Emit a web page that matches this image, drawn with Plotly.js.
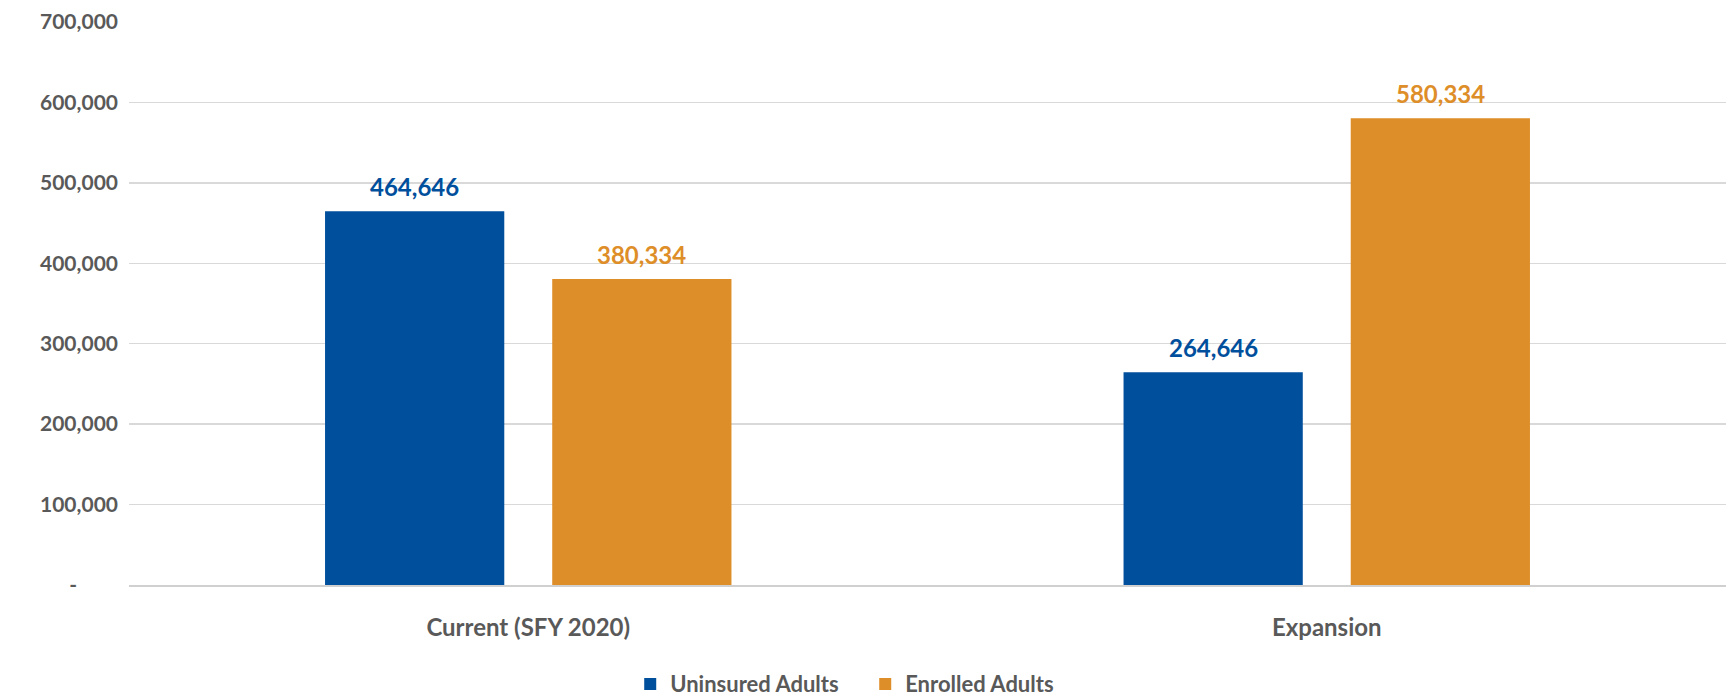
<!DOCTYPE html>
<html>
<head>
<meta charset="utf-8">
<script src="https://cdn.plot.ly/plotly-3.0.1.min.js"></script>
<style>html,body{margin:0;padding:0;background:#fff;}#chart{width:1728px;height:699px;}</style>
</head>
<body>
<div id="chart"></div>
<script>
const categories = ["Current (SFY 2020)", "Expansion"];
const seriesNames = ["Uninsured Adults", "Enrolled Adults"];
const uninsured = [464646, 264646];
const enrolled = [380334, 580334];
const tickValues = [0, 100000, 200000, 300000, 400000, 500000, 600000, 700000];
const tickLabels = ["-\u00A0\u00A0\u00A0\u00A0\u00A0\u00A0\u00A0\u00A0", "100,000", "200,000", "300,000", "400,000", "500,000", "600,000", "700,000"];
const colors = ["#004F9C", "#DE8E28"];

const FONT = "Lato, 'Open Sans', sans-serif";
const grey = "#595959";
const fmt = v => v.toLocaleString("en-US");

const seriesValues = [uninsured, enrolled];
const traces = seriesValues.map((vals, i) => ({
  type: "bar",
  name: seriesNames[i],
  x: categories,
  y: vals,
  marker: {color: colors[i]},
  hoverinfo: "none"
}));

const barOffsetPx = 113.5;
const annotations = [];
seriesValues.forEach((vals, i) => {
  vals.forEach((v, j) => {
    annotations.push({
      x: categories[j], y: v, xref: "x", yref: "y",
      text: "<b>" + fmt(v) + "</b>",
      showarrow: false,
      xshift: (i === 0 ? -1 : 1) * barOffsetPx,
      yshift: 25,
      yanchor: "middle",
      font: {family: FONT, size: 24, color: colors[i]}
    });
  });
});

const layout = {
  width: 1728, height: 699,
  margin: {l: 129, r: 2, t: 22, b: 114, autoexpand: false},
  paper_bgcolor: "#fff", plot_bgcolor: "#fff",
  barmode: "group",
  bargap: 0.431,
  bargroupgap: 0.211,
  showlegend: true,
  legend: {
    orientation: "h", x: 0.461, xanchor: "center", y: -0.176, yanchor: "middle",
    font: {family: FONT, size: 22, color: grey, weight: "bold"},
    itemwidth: 30, entrywidth: 190,
    itemclick: false, itemdoubleclick: false
  },
  xaxis: {
    type: "category",
    tickfont: {family: FONT, size: 24, color: grey, weight: "bold"},
    ticks: "outside", ticklen: 20, tickcolor: "rgba(0,0,0,0)",
    showline: true, linecolor: "#D0D0D0", linewidth: 2,
    showgrid: false, fixedrange: true
  },
  yaxis: {
    range: [0, 700000],
    tickmode: "array", tickvals: tickValues, ticktext: tickLabels,
    tickfont: {family: FONT, size: 21, color: grey, weight: "bold"},
    showgrid: true, gridcolor: "#D9D9D9", gridwidth: 1.5,
    zeroline: false, ticks: "", ticklabelstandoff: 10,
    fixedrange: true
  },
  annotations: annotations
};

Plotly.newPlot("chart", traces, layout, {displayModeBar: false, staticPlot: true});
</script>
</body>
</html>
